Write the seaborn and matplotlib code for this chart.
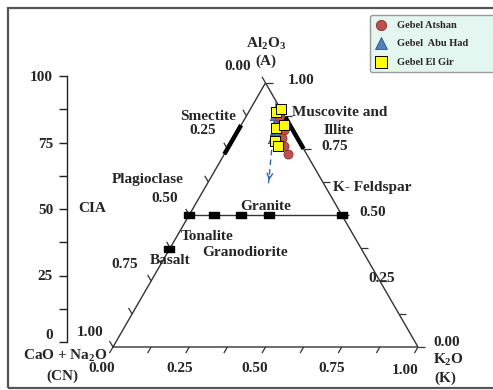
import numpy as np
import matplotlib
matplotlib.use('Agg')
import matplotlib.pyplot as plt
from matplotlib.patches import Rectangle
from matplotlib.collections import LineCollection
import seaborn as sns

# A-CN-K compositions (molar %)
atshan_A = [87, 82, 79, 76, 73]
atshan_CN = [2, 3, 5, 6, 6]
atshan_K = [11, 15, 16, 18, 21]

abuhad_A = [88, 85, 82, 79]
abuhad_CN = [3, 4, 6, 8]
abuhad_K = [9, 11, 12, 13]

elgir_A = [89, 90, 83, 84, 78, 76]
elgir_CN = [2, 0, 5, 2, 8, 8]
elgir_K = [9, 10, 12, 14, 14, 16]

# reference minerals / rocks
feldspar_K = [0, 8, 17, 26, 50]     # on the A = 50 join
feldspar_A = [50, 50, 50, 50, 50]
basalt_A, basalt_K = 37, 0
smectite_A = [73, 84]                # on the A-CN edge
illite_A = [75, 87]                  # on the A-K edge
trend_A = [93, 62]                   # weathering trend arrow
trend_K = [7, 20]

cia_ticks = [0, 25, 50, 75, 100]

sns.set_style('white')
plt.rcParams['font.family'] = ['Liberation Serif', 'DejaVu Serif']
plt.rcParams['font.weight'] = 'bold'
plt.rcParams['mathtext.fontset'] = 'custom'
plt.rcParams['mathtext.rm'] = 'Liberation Serif:bold'
plt.rcParams['mathtext.it'] = 'Liberation Serif:bold'
plt.rcParams['mathtext.bf'] = 'Liberation Serif:bold'

H = np.sqrt(3) / 2


def tern(A, K):
    A = np.asarray(A, float) / 100
    K = np.asarray(K, float) / 100
    return K + A / 2, A * H


def px(x, y):
    # pixel position in the picture -> data coords
    return (x - 113) / 305, (347 - y) / 305


fig = plt.figure(figsize=(4.93, 3.9), dpi=100)
ax = fig.add_axes([0, 0, 1, 1])
ax.set_xlim(-113 / 305, 380 / 305)
ax.set_ylim(-43 / 305, 347 / 305)
ax.axis('off')

# frame round the chart
fig.patches.append(Rectangle((8 / 493, 2 / 390), 1.2, 380 / 390, transform=fig.transFigure,
                             fill=False, edgecolor='#555555', lw=1.6))

# triangle
ax.plot([0, 1, 0.5, 0], [0, 0, H, 0], color='#333333', lw=1.0, zorder=1)

# edge ticks
L = 7 / 305
segs = []
for t in np.arange(0, 1.001, 0.125):
    segs.append([(t, 0), (t - 0.5 * L, -H * L)])
    a = 1 - t
    segs.append([(a / 2, a * H), (a / 2 - 0.5 * L, a * H + H * L)])
    segs.append([(1 - t / 2, t * H), (1 - t / 2 + L, t * H)])
ax.add_collection(LineCollection(segs, colors='#333333', lw=0.9, zorder=1))

# feldspar join
fx, fy = tern(feldspar_A, feldspar_K)
ax.plot([fx[0], fx[-1]], [fy[0], fy[-1]], color='#333333', lw=1.0, zorder=1)
rect = [(-1, -0.55), (1, -0.55), (1, 0.55), (-1, 0.55), (-1, -0.55)]
ax.plot(fx, fy, ls='none', marker=rect, ms=7.5, color='black', zorder=2)
bx, by = tern([basalt_A], [basalt_K])
ax.plot(bx, by, ls='none', marker=rect, ms=7.5, color='black', zorder=2)

# smectite and illite bars
sx, sy = tern(smectite_A, [0, 0])
ax.plot(sx, sy, color='black', lw=3.2, solid_capstyle='butt', zorder=2)
ix, iy = tern(illite_A, [100 - a for a in illite_A])
ax.plot(ix, iy, color='black', lw=3.2, solid_capstyle='butt', zorder=2)

# weathering trend
tx, ty = tern(trend_A, trend_K)
ax.plot(tx, ty, color='#2f66b8', lw=1.0, ls=(0, (4, 3)), zorder=2)
ax.annotate('', xy=(tx[1], ty[1]), xytext=(tx[1] + 0.004, ty[1] + 0.03),
            arrowprops=dict(arrowstyle='->', color='#2f66b8', lw=1.0), zorder=2)

# samples
x, y = tern(atshan_A, atshan_K)
sns.scatterplot(x=x, y=y, marker='o', s=42, color='#c0504d', edgecolor='#8c2f2c',
                linewidth=0.6, label='Gebel Atshan', ax=ax, zorder=4)
x, y = tern(abuhad_A, abuhad_K)
sns.scatterplot(x=x, y=y, marker='^', s=55, color='#4f81bd', edgecolor='#2c5282',
                linewidth=0.6, label='Gebel  Abu Had', ax=ax, zorder=3)
x, y = tern(elgir_A, elgir_K)
sns.scatterplot(x=x, y=y, marker='s', s=50, color='#ffff00', edgecolor='black',
                linewidth=0.7, label='Gebel El Gir', ax=ax, zorder=5)

leg = ax.legend(loc='upper left', mode='expand',
                bbox_to_anchor=(370 / 493, 1 - 68 / 390, 0.3, 53 / 390),
                bbox_transform=fig.transFigure, prop={'size': 7.5, 'weight': 'bold'},
                facecolor='#e3f6ef', edgecolor='#9a9a9a', framealpha=1, fancybox=True,
                borderaxespad=0, labelspacing=0.9, handletextpad=0.9, borderpad=0.5,
                handlelength=1.2, markerscale=1.15)
leg.get_frame().set_linewidth(1.0)

# labels
fs = 11
labels = [
    (266, 44, 'Al$_2$O$_3$', 'center'), (266, 61, '(A)', 'center'),
    (238, 67, '0.00', 'center'), (301, 80, '1.00', 'center'),
    (292, 112, 'Muscovite and', 'left'), (339, 131, 'Illite', 'center'),
    (335, 146, '0.75', 'center'),
    (208, 116, 'Smectite', 'center'), (203, 131, '0.25', 'center'),
    (148, 180, 'Plagioclase', 'center'), (165, 198, '0.50', 'center'),
    (92, 209, 'CIA', 'center'), (266, 206, 'Granite', 'center'),
    (372, 188, 'K- Feldspar', 'center'), (373, 213, '0.50', 'center'),
    (207, 236, 'Tonalite', 'center'), (245, 252, 'Granodiorite', 'center'),
    (170, 260, 'Basalt', 'center'), (125, 265, '0.75', 'center'),
    (382, 278, '0.25', 'center'), (90, 332, '1.00', 'center'),
    (102, 369, '0.00', 'center'), (180, 369, '0.25', 'center'),
    (255, 368, '0.50', 'center'), (332, 368, '0.75', 'center'),
    (405, 370, '1.00', 'center'),
    (65, 356, 'CaO + Na$_2$O', 'center'), (62, 376, '(CN)', 'center'),
    (447, 343, '0.00', 'center'), (448, 360, 'K$_2$O', 'center'),
    (445, 378, '(K)', 'center'),
]
for xp, yp, s, ha in labels:
    ax.text(*px(xp, yp), s, ha=ha, va='center', fontsize=fs, fontweight='bold', zorder=6)

# CIA scale
cax = fig.add_axes([67 / 493, 48 / 390, 0.01, 266 / 390])
cax.patch.set_alpha(0)
cax.set_ylim(0, 100)
cax.set_yticks(cia_ticks)
cax.set_yticks(np.arange(12.5, 100, 25), minor=True)
cax.set_yticklabels([str(v) for v in cia_ticks], fontsize=fs, fontweight='bold')
cax.set_xticks([])
for side in ['top', 'right', 'bottom']:
    cax.spines[side].set_visible(False)
cax.spines['left'].set_linewidth(1.0)
cax.spines['left'].set_color('#222222')
cax.tick_params(axis='y', which='both', direction='out', length=6, width=1.0,
                color='#222222', pad=4, left=True)
# the 0 label sits a touch above its tick in the original
cax.get_yticklabels()[0].set_va('bottom')

fig.savefig('out.png', dpi=100)
